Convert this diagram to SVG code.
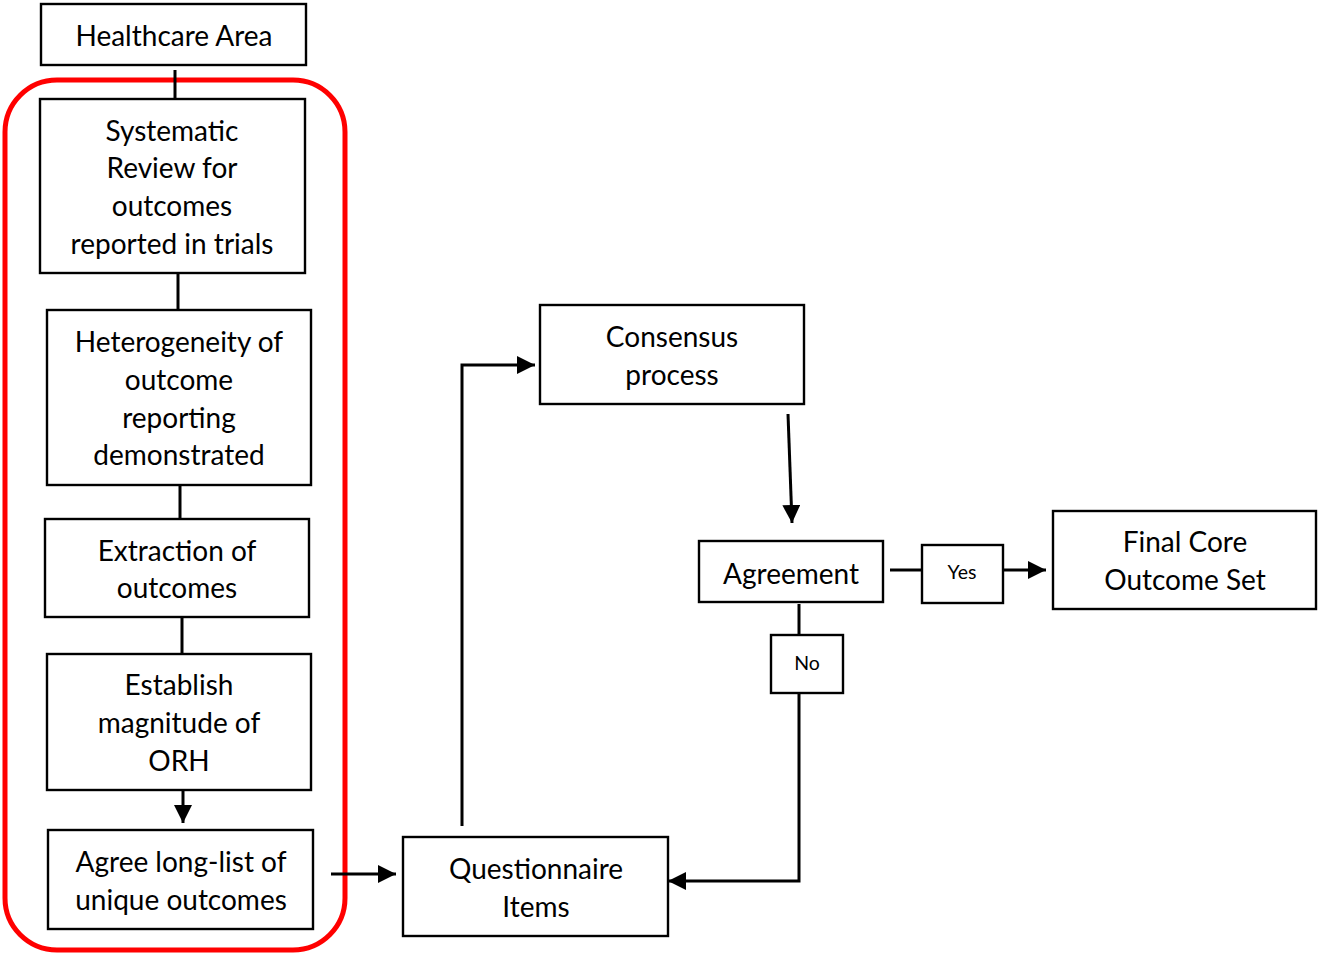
<svg xmlns="http://www.w3.org/2000/svg" width="1318" height="956" viewBox="0 0 1318 956">
<style>
.box{fill:#fff;stroke:#000;stroke-width:2.4}
.t{font-family:Lato,"Open Sans","Liberation Sans",sans-serif;font-size:28px;fill:#000;text-anchor:middle}
.s{font-family:Lato,"Open Sans","Liberation Sans",sans-serif;font-size:19.5px;fill:#000;text-anchor:middle}
.c{fill:none;stroke:#000;stroke-width:3}
</style>
<defs>
<marker id="ah" viewBox="0 0 10 10" refX="10" refY="5" markerWidth="6" markerHeight="6" orient="auto" markerUnits="strokeWidth">
<path d="M0,0 L10,5 L0,10 z" fill="#000"/>
</marker>
</defs>
<rect width="1318" height="956" fill="#fff"/>
<rect x="5" y="80" width="340" height="870" rx="52" ry="52" fill="none" stroke="#f00" stroke-width="5"/>
<g id="connectors">
<line class="c" x1="175" y1="70" x2="175" y2="99"/>
<line class="c" x1="178" y1="273" x2="178" y2="310"/>
<line class="c" x1="180" y1="485" x2="180" y2="519"/>
<line class="c" x1="182" y1="617" x2="182" y2="654"/>
<line class="c" x1="183" y1="790" x2="183" y2="823" marker-end="url(#ah)"/>
<line class="c" x1="331" y1="874" x2="396" y2="874" marker-end="url(#ah)"/>
<polyline class="c" points="462,826 462,365 535,365" marker-end="url(#ah)"/>
<line class="c" x1="788" y1="414" x2="792" y2="523" marker-end="url(#ah)"/>
<line class="c" x1="890" y1="570" x2="922" y2="570"/>
<line class="c" x1="1003" y1="570" x2="1046" y2="570" marker-end="url(#ah)"/>
<line class="c" x1="799" y1="604" x2="799" y2="635"/>
<polyline class="c" points="799,693 799,881 668,881" marker-end="url(#ah)"/>
</g>
<g id="healthcare">
<rect class="box" x="41" y="4" width="265" height="61"/>
<text class="t" x="174" y="46">Healthcare Area</text>
</g>
<g id="systematic">
<rect class="box" x="40" y="99" width="265" height="174"/>
<text class="t" x="172" y="141">Systematic</text>
<text class="t" x="172" y="178">Review for</text>
<text class="t" x="172" y="216">outcomes</text>
<text class="t" x="172" y="254">reported in trials</text>
</g>
<g id="heterogeneity">
<rect class="box" x="47" y="310" width="264" height="175"/>
<text class="t" x="179" y="352">Heterogeneity of</text>
<text class="t" x="179" y="390">outcome</text>
<text class="t" x="179" y="428">reporting</text>
<text class="t" x="179" y="465">demonstrated</text>
</g>
<g id="extraction">
<rect class="box" x="45" y="519" width="264" height="98"/>
<text class="t" x="177" y="561">Extraction of</text>
<text class="t" x="177" y="598">outcomes</text>
</g>
<g id="establish">
<rect class="box" x="47" y="654" width="264" height="136"/>
<text class="t" x="179" y="695">Establish</text>
<text class="t" x="179" y="733">magnitude of</text>
<text class="t" x="179" y="771">ORH</text>
</g>
<g id="agree">
<rect class="box" x="48" y="830" width="265" height="99"/>
<text class="t" x="181" y="872">Agree long-list of</text>
<text class="t" x="181" y="910">unique outcomes</text>
</g>
<g id="questionnaire">
<rect class="box" x="403" y="837" width="265" height="99"/>
<text class="t" x="536" y="879">Questionnaire</text>
<text class="t" x="536" y="917">Items</text>
</g>
<g id="consensus">
<rect class="box" x="540" y="305" width="264" height="99"/>
<text class="t" x="672" y="347">Consensus</text>
<text class="t" x="672" y="385">process</text>
</g>
<g id="agreement">
<rect class="box" x="699" y="541" width="184" height="61"/>
<text class="t" x="791" y="584">Agreement</text>
</g>
<g id="yes">
<rect class="box" x="922" y="545" width="81" height="58"/>
<text class="s" x="962" y="579">Yes</text>
</g>
<g id="no">
<rect class="box" x="771" y="635" width="72" height="58"/>
<text class="s" x="807" y="670">No</text>
</g>
<g id="final">
<rect class="box" x="1053" y="511" width="263" height="98"/>
<text class="t" x="1185" y="552">Final Core</text>
<text class="t" x="1185" y="590">Outcome Set</text>
</g>
</svg>
